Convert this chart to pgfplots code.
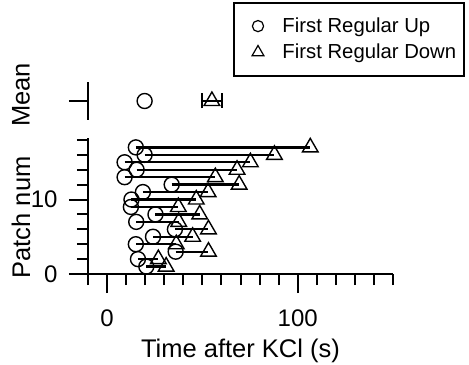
\documentclass[border=0pt]{standalone}
\usepackage{pgfplots}
\usepackage{pgfplotstable}
\pgfplotsset{compat=1.18}
\usepackage{fontspec}
\setmainfont{Liberation Sans}
\pgfplotstableread{
n up down
1 20.6 31.0
2 16.2 26.9
3 36.0 53.2
4 15.1 36.3
5 24.1 44.9
6 35.6 53.2
7 15.3 37.6
8 25.4 48.6
9 12.5 37.4
10 12.8 46.8
11 18.8 53.0
12 33.9 69.3
13 9.2 56.8
14 15.5 68.2
15 9.2 75.2
16 19.7 87.8
17 15.1 106.6
}\patches
\pgfplotsset{
 mylegimg/.style={legend image code/.code={\path[draw=none] (-18bp,-1bp) (13bp,1bp); \draw[##1, only marks] plot coordinates {(0bp,0bp)};}},
 igor/.style={
  scale only axis, width=305bp,
  xmin=-10, xmax=150,
  axis line style={line width=2bp,-},
  tick align=outside,
  major tick length=19bp, minor tick length=11bp,
  tick style={line width=2bp, black},
  minor tick style={line width=2bp, black},
  tick label style={font=\fontsize{24bp}{28bp}\selectfont},
  label style={font=\fontsize{25.5bp}{30bp}\selectfont},
  /pgf/number format/assume math mode=true,
  clip=false,
 }
}
\begin{document}
\begin{tikzpicture}
\begin{axis}[igor, at={(0,0)}, anchor=south west, height=136.3bp,
  ymin=0, ymax=18.3,
  axis x line=bottom, axis y line=left,
  axis line style={line width=2bp,-},
  tick align=outside,
  xtick={0,100}, minor xtick={-10,10,20,...,150},
  ytick={0,10}, minor ytick={2,4,...,18},
  xticklabel shift=13.5bp, yticklabel shift=8bp,
  xlabel={Time after KCl (s)}, ylabel={Patch num},
  xlabel style={at={(axis description cs:0.5,0)}, anchor=base, yshift=-83bp},
  ylabel style={at={(axis description cs:-0.2197,0.415)}, anchor=center},
]
\addplot[draw=none, forget plot, error bars/.cd, x dir=plus, x explicit, error mark=none,
  error bar style={line width=2.3bp, black}]
  table[x=up, y=n, x error expr=\thisrow{down}-\thisrow{up}] {\patches};
\addplot[only marks, forget plot, mark=o, mark size=7.5bp, mark options={line width=1.4bp, black}] table[x=up, y=n] {\patches};
\addplot[only marks, forget plot, mark=triangle, mark size=9bp, mark options={line width=1.4bp, black}] table[x=down, y=n] {\patches};
\end{axis}
\begin{axis}[igor, at={(0,154bp)}, anchor=south west, height=38bp,
  ymin=0, ymax=2,
  axis x line=none, axis y line=left,
  axis line style={line width=2bp,-},
  tick align=outside,
  ytick={1}, yticklabels={}, minor ytick={},
  ylabel={Mean},
  ylabel style={at={(axis description cs:-0.2197,0.66)}, anchor=center},
  legend style={at={(rel axis cs:0.4754,3.118)}, anchor=north west, draw=black, line width=2bp,
    font=\fontsize{20.3bp}{24bp}\selectfont, row sep=6bp, inner xsep=6bp, inner ysep=13.5bp,
    /tikz/every odd column/.append style={column sep=9.5bp}},
  legend cell align=left,
]
\addplot[only marks, forget plot, mark=o, mark size=7.5bp, mark options={line width=1.4bp, black}]
  coordinates {(19.7,1)};
\addplot[only marks, forget plot, mark=triangle, mark size=9bp, mark options={line width=1.4bp, black},
  error bars/.cd, x dir=both, x explicit, error mark=|,
  error bar style={line width=2bp, black}, error mark options={mark size=7.5bp, line width=2bp, black}]
  coordinates {(55.0,1) +- (5.1,0)};
\addlegendimage{only marks, mark=o, mark size=5.6bp, mark options={line width=1.2bp, black}, mylegimg}
\addlegendentry{First Regular Up}
\addlegendimage{only marks, mark=triangle, mark size=6.8bp, mark options={line width=1.2bp, black}, mylegimg}
\addlegendentry{First Regular Down}
\end{axis}
\pgfresetboundingbox
\path (-88bp,-91bp) rectangle (381bp,274bp);
\end{tikzpicture}
\end{document}
